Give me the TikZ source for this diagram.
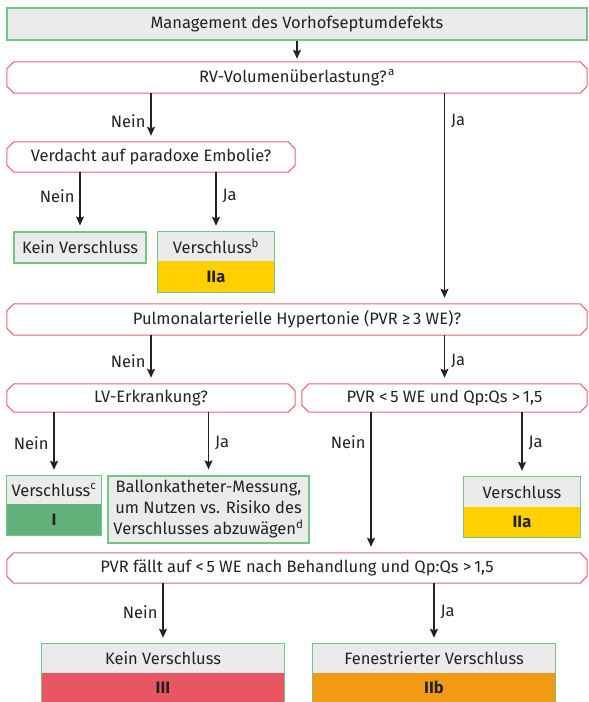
\documentclass[tikz,border=0pt]{standalone}
\usepackage{fontspec}
\setmainfont{Fira Sans}
\usetikzlibrary{arrows.meta}

\definecolor{boxgray}{HTML}{EBEBEB}
\definecolor{boxgreen}{HTML}{74C487}
\definecolor{qred}{HTML}{E8656E}
\definecolor{clsIIa}{HTML}{FFD000}
\definecolor{clsI}{HTML}{63B27B}
\definecolor{clsIII}{HTML}{E85563}
\definecolor{clsIIb}{HTML}{F29A13}
\definecolor{ink}{HTML}{222222}

\tikzset{
  sz/.style 2 args={minimum width=#1pt, minimum height=#2pt},
  startbox/.style={draw=boxgreen, fill=boxgray, line width=1.2pt, inner sep=0pt},
  question/.style={inner sep=0pt},
  qline/.style={draw=qred, line width=1pt},
  result/.style={draw=boxgreen, fill=boxgray, line width=1.2pt, inner sep=0pt},
  part/.style={inner sep=0pt, fill=boxgray},
  cls/.style={inner sep=0pt, fill=#1, font=\fontsize{16.5}{20}\selectfont\bfseries},
  rframe/.style={draw=boxgreen, line width=1.2pt},
  arr/.style={draw=ink, line width=1.1pt, -{Stealth[length=9pt,width=8pt,inset=1.5pt]}, shorten >=6pt},
  lblno/.style={left=5pt, inner sep=0pt, text=ink},
  lblyes/.style={right=6pt, inner sep=0pt, text=ink},
}

\begin{document}
\begin{tikzpicture}[x=1pt, y=-1pt, font=\fontsize{16.5}{20}\selectfont, text=ink]
\useasboundingbox (0,0) rectangle (589,702);

% start
\node[startbox, sz={580}{32}] (title) at (297,24) {Management des Vorhofseptumdefekts};

% questions
\node[question, sz={580}{31}] (rv)   at (297,77.5)  {RV-Volumenüberlastung?\kern1.5pt\textsuperscript{a}};
\node[question, sz={288}{30}] (emb)  at (151,157)   {Verdacht auf paradoxe Embolie?};
\node[question, sz={580}{31}] (pah)  at (297,319.5) {Pulmonalarterielle Hypertonie (PVR ≥\,3 WE)?};
\node[question, sz={288}{28}] (lv)   at (151,398)   {LV-Erkrankung?};
\node[question, sz={285}{28}] (pvr5) at (444.5,398) {PVR <\,5 WE und Qp:Qs >\,1,5};
\node[question, sz={580}{30}] (fall) at (297,568)   {PVR fällt auf <\,5 WE nach Behandlung und Qp:Qs >\,1,5};

\foreach \n in {rv,emb,pah,lv,pvr5,fall}
  \draw[qline] ([xshift=7pt]\n.north west) -- ([xshift=-7pt]\n.north east)
    -- ([yshift=-7pt]\n.north east) -- ([yshift=7pt]\n.south east)
    -- ([xshift=-7pt]\n.south east) -- ([xshift=7pt]\n.south west)
    -- ([yshift=7pt]\n.south west) -- ([yshift=-7pt]\n.north west) -- cycle;

% results
\node[result, sz={132}{31}] (kein1) at (80,247.5) {Kein Verschluss};

\node[part, sz={116}{29}] (v2top) at (216,246.5) {Verschluss\textsuperscript{b}};
\node[cls=clsIIa, sz={116}{31}] (v2bot) at (216,276.5) {IIa};
\draw[rframe] (v2top.north west) rectangle (v2bot.south east);

\node[part, sz={94}{28}] (v3top) at (54,490) {Verschluss\textsuperscript{c}};
\node[cls=clsI, sz={94}{31}] (v3bot) at (54,519.5) {I};
\draw[rframe] (v3top.north west) rectangle (v3bot.south east);

\node[result, sz={201}{67}, align=center, font=\fontsize{16.5}{21}\selectfont] (ballon) at (208.5,509.5)
  {Ballonkatheter-Messung,\\um Nutzen vs. Risiko des\\Verschlusses abzuwägen\textsuperscript{d}};

\node[part, sz={116}{30}] (v4top) at (522,492) {Verschluss};
\node[cls=clsIIa, sz={116}{30}] (v4bot) at (522,522) {IIa};
\draw[rframe] (v4top.north west) rectangle (v4bot.south east);

\node[part, sz={242}{29}] (k2top) at (163,658.5) {Kein Verschluss};
\node[cls=clsIII, sz={242}{29}] (k2bot) at (163,687.5) {III};
\draw[rframe] (k2top.north west) rectangle (k2bot.south east);

\node[part, sz={242}{29}] (fentop) at (434,658.5) {Fenestrierter Verschluss};
\node[cls=clsIIb, sz={242}{29}] (fenbot) at (434,687.5) {IIb};
\draw[rframe] (fentop.north west) rectangle (fenbot.south east);

% connectors
\coordinate (nx) at (371,0);
\draw[arr, shorten >=3pt] (title.south) -- (rv.north);
\draw[arr] (emb.north |- rv.south) -- node[lblno, pos=0.57] {Nein} (emb.north);
\draw[arr] (pvr5.north |- rv.south) -- node[lblyes, pos=0.133] {Ja} (pvr5.north |- pah.north);
\draw[arr] (kein1.north |- emb.south) -- node[lblno, pos=0.4] {Nein} (kein1.north);
\draw[arr] (v2top.north |- emb.south) -- node[lblyes, pos=0.4] {Ja} (v2top.north);
\draw[arr] (lv.north |- pah.south) -- node[lblno, pos=0.53] {Nein} (lv.north);
\draw[arr] (pvr5.north |- pah.south) -- node[lblyes, pos=0.53] {Ja} (pvr5.north);
\draw[arr] (v3top.north |- lv.south) -- node[lblno, pos=0.48] {Nein} (v3top.north);
\draw[arr] (ballon.north |- lv.south) -- node[lblyes, pos=0.48] {Ja} (ballon.north);
\draw[arr] (nx |- pvr5.south) -- node[lblno, pos=0.21] {Nein} (nx |- fall.north);
\draw[arr] (v4top.north |- pvr5.south) -- node[lblyes, pos=0.48] {Ja} (v4top.north);
\draw[arr] (k2top.north |- fall.south) -- node[lblno, pos=0.48] {Nein} (k2top.north);
\draw[arr] (fentop.north |- fall.south) -- node[lblyes, pos=0.48] {Ja} (fentop.north);
\end{tikzpicture}
\end{document}
